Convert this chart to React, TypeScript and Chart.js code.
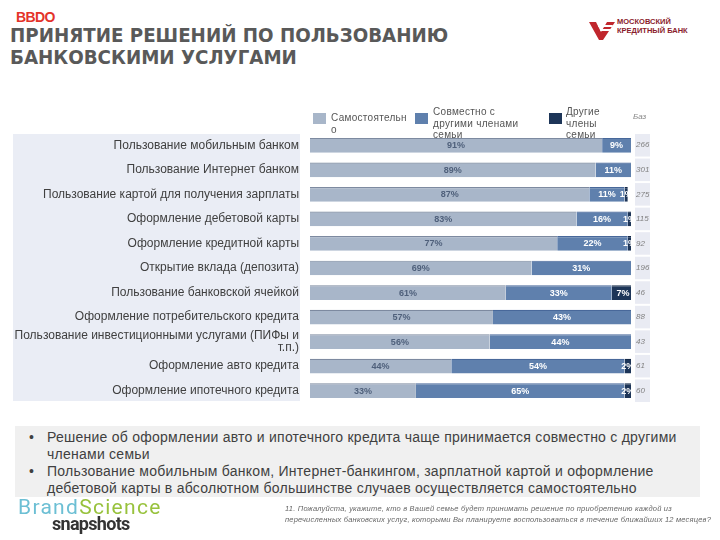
import React, { useEffect, useRef } from "react";
import { Chart, registerables } from "chart.js";

Chart.register(...registerables);

const categories: (string | string[])[] = [
  "Пользование мобильным банком",
  "Пользование Интернет банком",
  "Пользование картой для получения зарплаты",
  "Оформление дебетовой карты",
  "Оформление кредитной карты",
  "Открытие вклада (депозита)",
  "Пользование банковской ячейкой",
  "Оформление потребительского кредита",
  ["Пользование инвестиционными услугами (ПИФы и", "т.п.)"],
  "Оформление авто кредита",
  "Оформление ипотечного кредита",
];

const seriesNames = ["Самостоятельно", "Совместно с другими членами семьи", "Другие члены семьи"];
const selfValues = [91, 89, 87, 83, 77, 69, 61, 57, 56, 44, 33];
const jointValues = [9, 11, 11, 16, 22, 31, 33, 43, 44, 54, 65];
const otherValues = [0, 0, 1, 1, 1, 0, 7, 0, 0, 2, 2];
const baseValues = [266, 301, 275, 115, 92, 196, 46, 88, 43, 61, 60];

const colors = ["#a8b6c9", "#5f80ad", "#1d3558"];
const edgeColors = ["#7d8aa0", "#48689a", "#132846"];
const labelColors = ["#4f607b", "#ffffff", "#ffffff"];

const FONT = "'Liberation Sans', Arial, sans-serif";

const bgPlugin = {
  id: "bgPanels",
  beforeDraw(chart: any) {
    const { ctx } = chart;
    const ys = chart.scales.y;
    ctx.save();
    ctx.fillStyle = "#eaedf5";
    ctx.fillRect(13, ys.top + 1, 287, ys.bottom - ys.top - 3);
    ctx.fillStyle = "#e9ebf3";
    const step = ys.getPixelForValue(1) - ys.getPixelForValue(0);
    for (let i = 0; i < baseValues.length; i++) {
      const y = ys.getPixelForValue(i);
      ctx.fillRect(635, y - step / 2 + 1, 15, step - 2);
    }
    ctx.restore();
  },
};

const valueLabelPlugin = {
  id: "valueLabels",
  afterDatasetsDraw(chart: any) {
    const { ctx } = chart;
    ctx.save();
    ctx.font = `bold 9px ${FONT}`;
    ctx.textAlign = "center";
    ctx.textBaseline = "middle";
    chart.data.datasets.forEach((ds: any, di: number) => {
      const meta = chart.getDatasetMeta(di);
      meta.data.forEach((el: any, i: number) => {
        const v = ds.data[i];
        if (!v) return;
        ctx.fillStyle = labelColors[di];
        const cx = (el.x + el.base) / 2;
        ctx.fillText(v + "%", cx, el.y + 0.5);
      });
    });
    ctx.restore();
  },
};

function ChartCanvas() {
  const ref = useRef<HTMLCanvasElement>(null);
  useEffect(() => {
    if (!ref.current) return;
    const chart = new Chart(ref.current, {
      type: "bar",
      data: {
        labels: categories as any,
        datasets: [selfValues, jointValues, otherValues].map((d, i) => ({
          label: seriesNames[i],
          data: d,
          backgroundColor: colors[i],
          borderColor: edgeColors[i],
          borderWidth: { top: 1.2, right: 0, bottom: 0, left: 0 },
          borderSkipped: false,
          categoryPercentage: 1,
          barPercentage: 0.6,
        })),
      },
      options: {
        indexAxis: "y",
        responsive: false,
        animation: false,
        layout: { padding: { top: 133, bottom: 137, left: 0, right: 0 } },
        plugins: { legend: { display: false }, tooltip: { enabled: false } },
        scales: {
          x: { stacked: true, min: 0, max: 100, display: false },
          y: {
            stacked: true,
            position: "left",
            grid: { display: false, drawTicks: false },
            border: { display: false },
            ticks: {
              autoSkip: false,
              color: "#404040",
              font: { family: FONT, size: 12, lineHeight: 1.05 },
              padding: 11,
            },
            afterFit: (s: any) => {
              s.width = 310;
            },
          },
          y2: {
            type: "category",
            labels: baseValues.map(String),
            position: "right",
            offset: true,
            grid: { display: false, drawTicks: false },
            border: { display: false },
            ticks: { autoSkip: false, color: "#808080", font: { family: FONT, size: 8, style: "italic" }, padding: 5 },
            afterFit: (s: any) => {
              s.width = 89;
            },
          },
        },
      },
      plugins: [bgPlugin, valueLabelPlugin],
    });
    return () => chart.destroy();
  }, []);
  return <canvas ref={ref} width={720} height={540} style={{ position: "absolute", left: 0, top: 0 }} />;
}

const abs = (l: number, t: number, extra: React.CSSProperties = {}): React.CSSProperties => ({
  position: "absolute",
  left: l,
  top: t,
  ...extra,
});

export default function App() {
  useEffect(() => {
    document.body.style.margin = "0";
  }, []);
  const legendText: React.CSSProperties = {
    fontFamily: FONT,
    fontSize: 10,
    lineHeight: "11.5px",
    color: "#555",
    letterSpacing: 0.3,
    whiteSpace: "nowrap",
  };
  return (
    <div style={{ position: "absolute", left: 0, top: 0, width: 720, height: 540, background: "#fff", overflow: "hidden" }}>
      {/* BBDO */}
      <div style={abs(16, 9, { fontFamily: FONT, fontWeight: 900, fontSize: 14, color: "#e4332a", letterSpacing: -0.6 })}>BBDO</div>
      {/* Title */}
      <div
        style={abs(10, 24, {
          fontFamily: "'Liberation Sans Narrow', 'DejaVu Sans Condensed', 'Roboto', sans-serif",
          fontWeight: 700,
          fontSize: 20.3,
          lineHeight: "22px",
          color: "#595959",
          whiteSpace: "nowrap",
        })}
      >
        ПРИНЯТИЕ РЕШЕНИЙ ПО ПОЛЬЗОВАНИЮ
        <br />
        БАНКОВСКИМИ УСЛУГАМИ
      </div>
      {/* MKB logo */}
      <svg style={abs(589, 19)} width={26} height={22} viewBox="0 0 26 22">
        <polygon points="0,3 7,3 12,13 18,3 26,3 14,21 10,21" fill="#c0272d" />
        <polygon points="10,6 24,6 23,8 9,8" fill="#ffffff" />
        <polygon points="12,10 22,10 21,12 11,12" fill="#ffffff" />
      </svg>
      <div
        style={abs(617, 17, {
          fontFamily: FONT,
          fontWeight: 700,
          fontSize: 7.5,
          lineHeight: "9px",
          color: "#8a1c2c",
          whiteSpace: "nowrap",
        })}
      >
        МОСКОВСКИЙ
        <br />
        КРЕДИТНЫЙ БАНК
      </div>

      <ChartCanvas />

      {/* Legend */}
      <div style={abs(313, 113, { width: 13, height: 11, background: colors[0] })} />
      <div style={abs(331, 112, legendText)}>
        Самостоятельн
        <br />о
      </div>
      <div style={abs(415, 113, { width: 13, height: 11, background: colors[1] })} />
      <div style={abs(433, 106, legendText)}>
        Совместно с
        <br />
        другими членами
        <br />
        семьи
      </div>
      <div style={abs(549, 113, { width: 13, height: 11, background: colors[2] })} />
      <div style={abs(566, 106, legendText)}>
        Другие
        <br />
        члены
        <br />
        семьи
      </div>
      <div style={abs(633, 112, { fontFamily: FONT, fontSize: 8, fontStyle: "italic", color: "#888", lineHeight: "10px" })}>Баз</div>

      {/* Bottom box */}
      <div style={abs(15, 426, { width: 685, height: 71, background: "#f0f0f0" })} />
      <div
        style={abs(29, 429, {
          fontFamily: FONT,
          fontSize: 14,
          letterSpacing: 0.25,
          lineHeight: "17px",
          color: "#404040",
          whiteSpace: "nowrap",
        })}
      >
        <div style={{ display: "flex" }}>
          <span style={{ width: 18 }}>•</span>
          <span>
            Решение об оформлении авто и ипотечного кредита чаще принимается совместно с другими
            <br />
            членами семьи
          </span>
        </div>
        <div style={{ display: "flex" }}>
          <span style={{ width: 18 }}>•</span>
          <span>
            Пользование мобильным банком, Интернет-банкингом, зарплатной картой и оформление
            <br />
            дебетовой карты в абсолютном большинстве случаев осуществляется самостоятельно
          </span>
        </div>
      </div>

      {/* BrandScience logo */}
      <div style={abs(18, 496, { fontFamily: "Roboto, sans-serif", fontSize: 21, fontWeight: 400, letterSpacing: 1.3, lineHeight: "22px" })}>
        <span style={{ color: "#6cbfd4" }}>Brand</span>
        <span style={{ color: "#98c23d" }}>Science</span>
      </div>
      <div style={abs(52, 513, { fontFamily: "Roboto, sans-serif", fontSize: 18, fontWeight: 700, color: "#333", letterSpacing: -0.7 })}>
        snapshots
      </div>

      {/* Footnote */}
      <div
        style={abs(285, 503, {
          fontFamily: FONT,
          fontSize: 7.5,
          fontStyle: "italic",
          letterSpacing: 0.2,
          lineHeight: "11px",
          color: "#666",
          whiteSpace: "nowrap",
        })}
      >
        11. Пожалуйста, укажите, кто в Вашей семье будет принимать решение по приобретению каждой из
        <br />
        перечисленных банковских услуг, которыми Вы планируете воспользоваться в течение ближайших 12 месяцев?
      </div>
    </div>
  );
}
